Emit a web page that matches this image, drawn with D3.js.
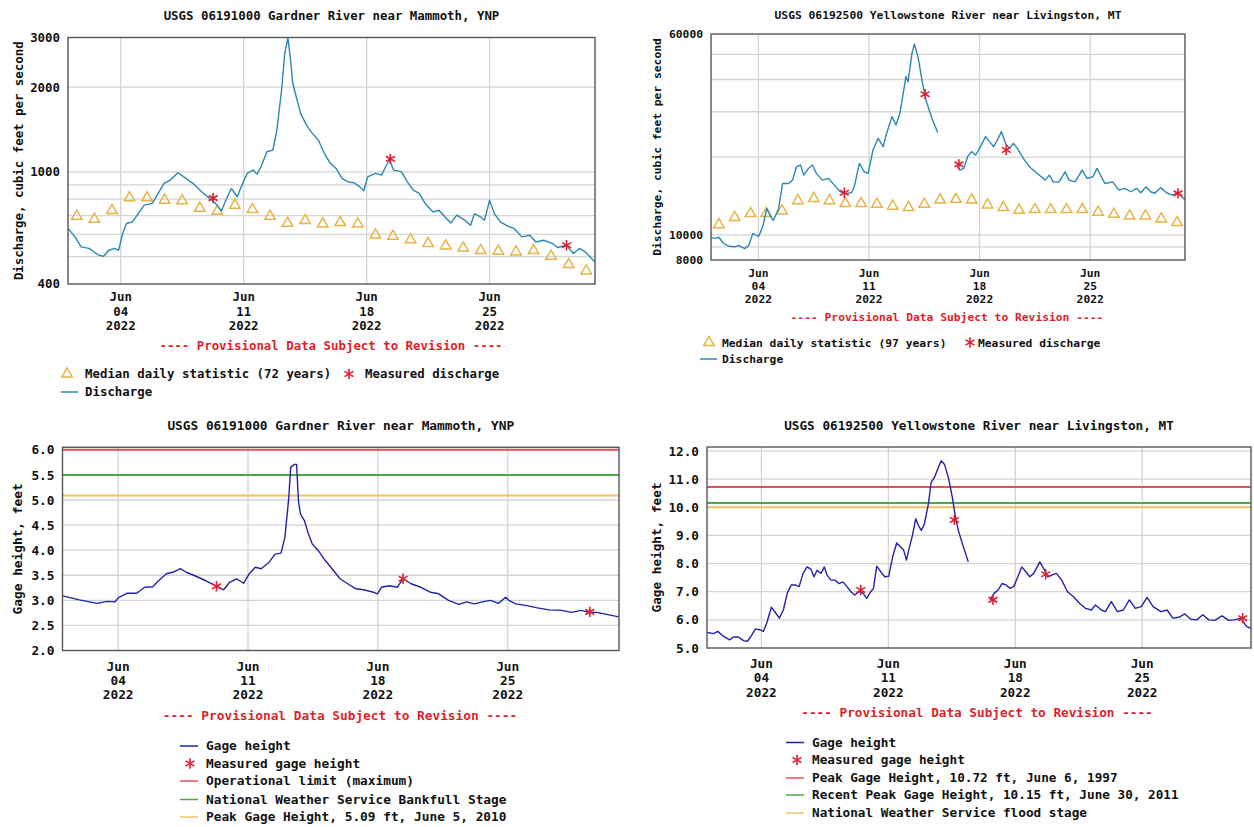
<!DOCTYPE html>
<html><head><meta charset="utf-8">
<script src="https://cdn.jsdelivr.net/npm/d3@7"></script>
<style>
body{margin:0;background:#fff;}
svg{font-family:"DejaVu Sans Mono","Liberation Mono",monospace;font-weight:bold;font-size:12.4px;}
svg text{fill:#111;}
</style></head><body>
<svg id="c" width="1254" height="827"></svg>
<script>
// ---------------- DATA ----------------
const tickDays = [3, 10, 17, 24];               // Jun 04, 11, 18, 25 (days after Jun 1)
const medianDays = d3.range(30).map(i => i + 0.5);

// Gardner River discharge (cfs): [day after Jun 1, value]
const gardnerDischarge = [[0,630],[0.41,588],[0.74,542],[1.19,535],[1.76,506],[2.03,502],[2.32,527],[2.66,535],[2.88,527],[3.11,604],[3.33,656],[3.67,665],[4.0,711],[4.34,762],[4.8,773],[5.13,839],[5.47,910],[5.81,935],[6.26,993],[6.71,948],[7.16,905],[7.61,850],[8.06,805],[8.4,773],[8.73,727],[9.07,816],[9.3,873],[9.64,816],[9.86,885],[10.2,988],[10.54,1015],[10.76,982],[10.99,1043],[11.32,1179],[11.66,1195],[11.89,1408],[12.16,1954],[12.34,2640],[12.52,2985],[12.67,2500],[12.79,2064],[13.24,1614],[13.57,1468],[13.91,1370],[14.25,1298],[14.59,1164],[14.93,1072],[15.26,1029],[15.6,948],[15.94,922],[16.28,915],[16.61,885],[16.84,857],[17.06,961],[17.51,988],[17.85,974],[18.08,1043],[18.3,1107],[18.53,1015],[18.98,1002],[19.32,922],[19.65,862],[19.99,839],[20.33,773],[20.78,721],[21.12,731],[21.45,693],[21.79,659],[22.13,702],[22.58,674],[22.92,647],[23.14,711],[23.48,693],[23.71,674],[24.0,794],[24.27,711],[24.61,665],[25.06,641],[25.39,630],[25.84,588],[26.29,596],[26.63,564],[27.08,572],[27.53,559],[27.87,539],[28.37,549],[28.77,513],[29.11,535],[29.45,520],[29.9,486],[30,480]];
const gardnerMedian = [696,679,729,809,809,794,790,743,725,762,735,696,657,672,654,661,654,597,591,574,557,546,537,526,523,520,526,502,469,445];
const gardnerMeasuredQ = [[8.26,807],[18.35,1113],[28.38,549]];

// Yellowstone River discharge (cfs); null = gap in record
const yellowDischarge = [[0,9770],[0.25,9700],[0.5,9800],[0.76,9310],[1.13,9040],[1.51,9000],[1.76,9100],[2.14,8850],[2.39,9100],[2.64,10120],[3.02,9890],[3.27,10750],[3.53,12660],[3.78,11750],[3.95,11400],[4.28,12660],[4.53,15830],[4.91,15830],[5.16,16310],[5.41,18380],[5.67,18650],[5.87,17050],[6.17,18100],[6.42,18650],[6.67,17320],[7.05,16310],[7.43,16560],[7.81,15600],[8.18,14700],[8.56,14490],[8.89,14570],[9.07,15380],[9.39,18930],[9.7,17570],[9.95,17320],[10.25,21330],[10.58,23670],[10.9,21980],[11.08,24390],[11.46,28730],[11.71,26670],[11.96,29600],[12.34,41090],[12.47,39130],[12.72,50460],[12.87,54850],[13.1,49020],[13.35,39860],[13.6,33400],[13.98,28320],[14.35,24920],[14.9,null],[15.54,18650],[15.74,17840],[16.0,18100],[16.24,20100],[16.49,21020],[16.75,20400],[17.0,21650],[17.38,24030],[17.63,22980],[17.88,21980],[18.13,23320],[18.38,25130],[18.64,22640],[18.89,21650],[19.14,22640],[19.39,21650],[19.77,19800],[20.15,18380],[20.52,17570],[20.9,16810],[21.15,16310],[21.41,17050],[21.66,16050],[22.03,16050],[22.41,17570],[22.66,16310],[23.04,16050],[23.49,17840],[23.8,16560],[24.18,16810],[24.43,18100],[24.93,15830],[25.43,16050],[25.81,14920],[26.19,15150],[26.57,14700],[26.95,15150],[27.2,14570],[27.53,15380],[27.83,14700],[28.08,14490],[28.46,15250],[28.83,14570],[29.21,14270],[29.54,14570],[30,13660]];
const yellowMedian = [10970,11680,12110,12110,12400,13580,13860,13580,13240,13240,13160,12930,12770,13160,13660,13740,13660,13080,12770,12470,12550,12550,12550,12550,12250,12030,11860,11860,11540,11170];
const yellowMeasuredQ = [[8.44,14570],[13.55,35080],[15.69,18770],[18.69,21330],[29.56,14490]];

// Gardner River gage height (ft)
const gardnerStage = [[0,3.09],[0.91,3.01],[1.87,2.94],[2.4,2.98],[2.83,2.97],[3.04,3.06],[3.47,3.14],[4.0,3.14],[4.43,3.26],[4.86,3.27],[5.18,3.39],[5.6,3.53],[6.03,3.57],[6.35,3.63],[6.67,3.56],[7.2,3.48],[7.73,3.39],[8.26,3.29],[8.69,3.21],[9.01,3.36],[9.39,3.43],[9.76,3.34],[10.07,3.53],[10.39,3.66],[10.71,3.63],[11.14,3.76],[11.46,3.92],[11.78,3.94],[11.99,4.26],[12.2,5.05],[12.3,5.65],[12.51,5.71],[12.62,5.71],[12.72,4.98],[12.83,4.72],[13.04,4.59],[13.26,4.32],[13.47,4.12],[13.79,3.99],[14.11,3.82],[14.53,3.63],[14.96,3.43],[15.38,3.33],[15.81,3.23],[16.23,3.21],[16.77,3.16],[16.98,3.13],[17.19,3.26],[17.62,3.29],[18.04,3.26],[18.36,3.43],[18.79,3.33],[19.32,3.26],[19.85,3.16],[20.28,3.13],[20.81,3.0],[21.36,2.92],[21.79,2.97],[22.2,2.93],[22.64,2.97],[23.07,3.0],[23.5,2.94],[23.89,3.06],[24.06,3.0],[24.43,2.93],[24.96,2.9],[25.6,2.85],[26.24,2.81],[26.9,2.8],[27.43,2.76],[27.96,2.8],[28.37,2.76],[28.8,2.76],[29.33,2.72],[30,2.67]];
const gardnerMeasuredH = [[8.3,3.28],[18.36,3.43],[28.43,2.77]];
const gardnerRefValues = [6.0, 5.5, 5.09];
const gardnerRefNames = ["Operational limit (maximum)","National Weather Service Bankfull Stage","Peak Gage Height, 5.09 ft, June 5, 2010"];

// Yellowstone River gage height (ft)
const yellowStage = [[0,5.55],[0.37,5.51],[0.59,5.59],[0.92,5.41],[1.25,5.29],[1.46,5.39],[1.73,5.39],[2.01,5.26],[2.23,5.24],[2.45,5.44],[2.67,5.68],[2.89,5.65],[3.11,5.59],[3.29,5.88],[3.55,6.45],[3.77,6.26],[3.99,6.06],[4.21,6.35],[4.43,6.96],[4.65,7.24],[4.86,7.24],[5.08,7.18],[5.3,7.65],[5.52,7.88],[5.74,7.79],[5.9,7.53],[6.07,7.76],[6.29,7.65],[6.47,7.88],[6.62,7.59],[6.84,7.41],[7.06,7.41],[7.28,7.29],[7.5,7.35],[7.72,7.18],[7.94,7.0],[8.15,6.88],[8.37,7.0],[8.59,6.96],[8.81,6.76],[9.03,7.0],[9.18,7.12],[9.36,7.91],[9.58,7.71],[9.8,7.53],[10.02,7.55],[10.24,8.24],[10.46,8.73],[10.68,8.59],[10.85,8.47],[11.0,8.12],[11.12,8.47],[11.33,9.0],[11.51,9.59],[11.66,9.35],[11.82,9.18],[11.99,9.41],[12.21,10.12],[12.36,10.88],[12.54,11.06],[12.76,11.41],[12.91,11.65],[13.09,11.53],[13.31,11.06],[13.53,10.35],[13.7,9.65],[13.86,9.18],[14.08,8.71],[14.41,8.06],[15.0,null],[15.61,6.71],[15.83,6.94],[16.05,7.06],[16.27,7.29],[16.49,7.24],[16.7,7.12],[16.92,7.18],[17.14,7.53],[17.36,7.88],[17.58,7.71],[17.8,7.53],[18.02,7.65],[18.35,8.06],[18.57,7.82],[18.79,7.53],[19.01,7.59],[19.27,7.65],[19.56,7.41],[19.88,7.0],[20.21,6.82],[20.54,6.59],[20.87,6.41],[21.2,6.35],[21.42,6.53],[21.75,6.35],[21.97,6.29],[22.3,6.65],[22.63,6.29],[22.96,6.35],[23.29,6.71],[23.62,6.41],[23.95,6.47],[24.27,6.8],[24.6,6.47],[25.04,6.29],[25.37,6.35],[25.69,6.06],[26.02,6.09],[26.35,6.21],[26.68,6.02],[27.01,6.0],[27.34,6.18],[27.67,6.0],[28.0,5.98],[28.4,6.14],[28.77,5.98],[29.1,6.0],[29.43,6.06],[29.76,5.76],[30,5.7]];
const yellowMeasuredH = [[8.48,7.06],[13.64,9.55],[15.77,6.71],[18.68,7.62],[29.54,6.06]];
const yellowRefValues = [10.72, 10.15, 10.0];
const yellowRefNames = ["Peak Gage Height, 10.72 ft, June 6, 1997","Recent Peak Gage Height, 10.15 ft, June 30, 2011","National Weather Service flood stage"];

const titleGardner = "USGS 06191000 Gardner River near Mammoth, YNP";
const titleYellow = "USGS 06192500 Yellowstone River near Livingston, MT";
const provisional = "---- Provisional Data Subject to Revision ----";

// ---------------- STYLE ----------------
const C = {
  grid:"#d4d4d4", border:"#555", q:"#2b88b3", h:"#2323a6", tri:"#e8b447", star:"#e0202e",
  red:"#e2505c", green:"#4aaa4a", orange:"#f2c266", prov:"#dd1f2a"
};
const refColors = [C.red, C.green, C.orange];

const DAY = 864e5, T0 = new Date(2022,5,1).getTime();
const dt = d => new Date(T0 + d*DAY);
const svg = d3.select("#c");
let clipN = 0;

function drawPanel(p) {
  const g = svg.append("g").attr("font-size", p.fs);
  const x = d3.scaleTime().domain([dt(0), dt(30)]).range([p.left, p.right]);
  const y = (p.log ? d3.scaleLog() : d3.scaleLinear()).domain(p.yDomain).range([p.bottom, p.top]);
  const id = "clip" + (clipN++);
  svg.append("clipPath").attr("id", id).append("rect")
    .attr("x", p.left).attr("y", p.top).attr("width", p.right-p.left).attr("height", p.bottom-p.top);

  g.append("text").attr("x", (p.left+p.right)/2).attr("y", p.titleY).attr("text-anchor","middle").text(p.title);

  g.append("g").selectAll("line").data(p.gridY).join("line")
    .attr("x1", p.left).attr("x2", p.right).attr("y1", d=>y(d)).attr("y2", d=>y(d))
    .attr("stroke", C.grid).attr("stroke-width", 1.3);
  g.append("g").selectAll("line").data(tickDays).join("line")
    .attr("x1", d=>x(dt(d))).attr("x2", d=>x(dt(d))).attr("y1", p.top).attr("y2", p.bottom)
    .attr("stroke", C.grid).attr("stroke-width", 1.3);

  const pg = g.append("g").attr("clip-path", `url(#${id})`);
  if (p.refs) {
    pg.selectAll("line.ref").data(p.refs).join("line").attr("class","ref")
      .attr("x1", p.left).attr("x2", p.right).attr("y1", d=>y(d)).attr("y2", d=>y(d))
      .attr("stroke", (d,i)=>refColors[i]).attr("stroke-width", 2);
  }
  if (p.median) {
    pg.selectAll("path.tri").data(p.median).join("path")
      .attr("d", d3.symbol(d3.symbolTriangle, 48))
      .attr("transform", (d,i)=>`translate(${x(dt(medianDays[i]))},${y(d)})`)
      .attr("fill","none").attr("stroke", C.tri).attr("stroke-width", 1.5);
  }
  const line = d3.line().defined(d=>d[1]!=null).x(d=>x(dt(d[0]))).y(d=>y(d[1]));
  pg.append("path").datum(p.series).attr("d", line).attr("fill","none")
    .attr("stroke", p.color).attr("stroke-width", 1.4).attr("stroke-linejoin","round");
  pg.selectAll("path.star").data(p.measured).join("path")
    .attr("d", d3.symbol(d3.symbolAsterisk, 75))
    .attr("transform", d=>`translate(${x(dt(d[0]))},${y(d[1])})`)
    .attr("fill","none").attr("stroke", C.star).attr("stroke-width", 1.6);

  g.append("rect").attr("x", p.left).attr("y", p.top).attr("width", p.right-p.left).attr("height", p.bottom-p.top)
    .attr("fill","none").attr("stroke", C.border).attr("stroke-width", 1.4);

  const ax = g.append("g").attr("transform", `translate(${p.left},0)`)
    .call(d3.axisLeft(y).tickValues(p.labelsY).tickFormat(p.fmt).tickSize(0).tickPadding(8));
  ax.attr("font-size", null).attr("font-family", null);
  ax.select(".domain").remove();
  ax.selectAll("text").style("fill","#111");
  g.append("text").attr("transform", `translate(${p.ylabX},${(p.top+p.bottom)/2}) rotate(-90)`)
    .attr("text-anchor","middle").attr("dominant-baseline","central").text(p.ylabel);

  const fm = [d3.timeFormat("%b"), d3.timeFormat("%d"), d3.timeFormat("%Y")];
  tickDays.forEach(d => {
    fm.forEach((f,i) => {
      g.append("text").attr("x", x(dt(d))).attr("y", p.xlabY[i]).attr("text-anchor","middle").text(f(dt(d)));
    });
  });

  g.append("text").attr("x", p.provX).attr("y", p.provY).attr("text-anchor","middle")
    .style("fill", C.prov).text(provisional);

  p.legend.forEach(it => {
    const lg = g.append("g");
    if (it.type === "tri") {
      lg.append("path").attr("d", d3.symbol(d3.symbolTriangle, 48)).attr("transform",`translate(${it.sx},${it.y-4})`)
        .attr("fill","none").attr("stroke", C.tri).attr("stroke-width",1.5);
    } else if (it.type === "star") {
      lg.append("path").attr("d", d3.symbol(d3.symbolAsterisk, 75)).attr("transform",`translate(${it.sx},${it.y-4})`)
        .attr("fill","none").attr("stroke", C.star).attr("stroke-width",1.6);
    } else {
      lg.append("line").attr("x1", it.sx).attr("x2", it.sx2).attr("y1", it.y-4).attr("y2", it.y-4)
        .attr("stroke", it.color).attr("stroke-width", 1.5);
    }
    lg.append("text").attr("x", it.tx).attr("y", it.y).text(it.text);
  });
}

// ---------------- PANELS ----------------
drawPanel({
  fs:12.4, left:68, right:595, top:37.5, bottom:284, log:true, yDomain:[400,3000],
  gridY:[500,600,700,800,900,1000,2000], labelsY:[400,1000,2000,3000], fmt:d3.format("d"),
  title:titleGardner, titleY:20, ylabel:"Discharge, cubic feet per second", ylabX:18,
  series:gardnerDischarge, color:C.q, median:gardnerMedian, measured:gardnerMeasuredQ,
  xlabY:[301,316,330], provX:331, provY:350,
  legend:[
    {type:"tri", sx:67, tx:85, y:378, text:"Median daily statistic (72 years)"},
    {type:"star", sx:349, tx:365, y:378, text:"Measured discharge"},
    {type:"line", sx:61, sx2:78, color:C.q, tx:85, y:396, text:"Discharge"}
  ]
});

drawPanel({
  fs:11.3, left:711, right:1185, top:34, bottom:260, log:true, yDomain:[8000,60000],
  gridY:[9000,10000,20000,30000,40000,50000], labelsY:[8000,10000,60000], fmt:d3.format("d"),
  title:titleYellow, titleY:19, ylabel:"Discharge, cubic feet per second", ylabX:657,
  series:yellowDischarge, color:C.q, median:yellowMedian, measured:yellowMeasuredQ,
  xlabY:[276.5,290,303], provX:947, provY:320.5,
  legend:[
    {type:"tri", sx:709, tx:722, y:346.5, text:"Median daily statistic (97 years)"},
    {type:"star", sx:970, tx:978, y:346.5, text:"Measured discharge"},
    {type:"line", sx:700, sx2:717, color:C.q, tx:722, y:363, text:"Discharge"}
  ]
});

drawPanel({
  fs:12.8, left:62.5, right:619, top:447.3, bottom:650.5, log:false, yDomain:[2,6.05],
  gridY:[2.5,3,3.5,4,4.5,5,5.5,6], labelsY:[2,2.5,3,3.5,4,4.5,5,5.5,6], fmt:d3.format(".1f"),
  title:titleGardner, titleY:430, ylabel:"Gage height, feet", ylabX:17,
  series:gardnerStage, color:C.h, refs:gardnerRefValues, measured:gardnerMeasuredH,
  xlabY:[671,685,699], provX:340, provY:720,
  legend:[
    {type:"line", sx:180, sx2:198, color:C.h, tx:206, y:750, text:"Gage height"},
    {type:"star", sx:190, tx:206, y:767.5, text:"Measured gage height"},
    {type:"line", sx:180, sx2:198, color:C.red, tx:206, y:785, text:gardnerRefNames[0]},
    {type:"line", sx:180, sx2:198, color:C.green, tx:206, y:803.5, text:gardnerRefNames[1]},
    {type:"line", sx:180, sx2:198, color:C.orange, tx:206, y:821, text:gardnerRefNames[2]}
  ]
});

drawPanel({
  fs:12.7, left:707, right:1251, top:447, bottom:648, log:false, yDomain:[5,12.14],
  gridY:[6,7,8,9,10,11,12], labelsY:[5,6,7,8,9,10,11,12], fmt:d3.format(".1f"),
  title:titleYellow, titleY:430, ylabel:"Gage height, feet", ylabX:656,
  series:yellowStage, color:C.h, refs:yellowRefValues, measured:yellowMeasuredH,
  xlabY:[668,682,697], provX:977, provY:717,
  legend:[
    {type:"line", sx:786, sx2:804, color:C.h, tx:812, y:746.5, text:"Gage height"},
    {type:"star", sx:797, tx:812, y:764, text:"Measured gage height"},
    {type:"line", sx:786, sx2:804, color:C.red, tx:812, y:782, text:yellowRefNames[0]},
    {type:"line", sx:786, sx2:804, color:C.green, tx:812, y:799, text:yellowRefNames[1]},
    {type:"line", sx:786, sx2:804, color:C.orange, tx:812, y:817, text:yellowRefNames[2]}
  ]
});
</script></body></html>
